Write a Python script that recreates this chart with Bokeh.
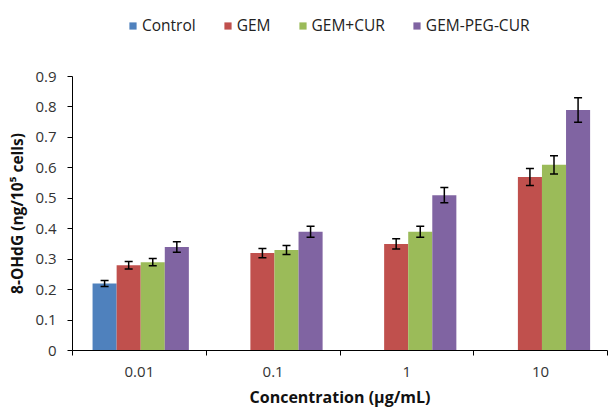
from bokeh.plotting import figure
from bokeh.layouts import column
from bokeh.models import ColumnDataSource, Whisker, Legend, LegendItem, FixedTicker, CustomJSTickFormatter, Range1d
from bokeh.embed import file_html
from bokeh.resources import INLINE

concentrations = ["0.01", "0.1", "1", "10"]
series = ["Control", "GEM", "GEM+CUR", "GEM-PEG-CUR"]
colors = ["#4F81BD", "#C0504D", "#9BBB59", "#8064A2"]
control = [0.22, None, None, None]
control_err = [0.01, None, None, None]
gem = [0.28, 0.32, 0.35, 0.57]
gem_err = [0.012, 0.015, 0.017, 0.028]
gem_cur = [0.29, 0.33, 0.39, 0.61]
gem_cur_err = [0.012, 0.015, 0.018, 0.03]
gem_peg_cur = [0.34, 0.39, 0.51, 0.79]
gem_peg_cur_err = [0.017, 0.018, 0.025, 0.04]
y_ticks = [0, 0.1, 0.2, 0.3, 0.4, 0.5, 0.6, 0.7, 0.8, 0.9]

values = [control, gem, gem_cur, gem_peg_cur]
errors = [control_err, gem_err, gem_cur_err, gem_peg_cur_err]

FONT = "Open Sans"
NAN = float("nan")

# legend strip on top
lg = figure(frame_width=609, frame_height=44, output_backend="svg", toolbar_location=None,
            x_range=Range1d(0, 1), y_range=Range1d(0, 1), x_axis_type=None, y_axis_type=None,
            min_border_left=0, min_border_right=0, min_border_top=0, min_border_bottom=0)
lg.outline_line_color = None
lg.xgrid.visible = False
lg.ygrid.visible = False
items = []
for s, col in zip(series, colors):
    r = lg.vbar(x=[NAN], top=[NAN], width=0.1, fill_color=col, line_color=None)
    items.append(LegendItem(label=s, renderers=[r]))
legend = Legend(items=items, orientation="horizontal", location=(128, 8),
                label_text_font=FONT, label_text_font_size="15.5px", label_text_color="#222222",
                glyph_width=9, glyph_height=9, spacing=27, label_standoff=5,
                border_line_color=None, background_fill_alpha=0, margin=0, padding=4)
lg.add_layout(legend, "center")

p = figure(frame_width=535, frame_height=274, output_backend="svg", toolbar_location=None,
           x_range=Range1d(0, len(concentrations)), y_range=Range1d(0, 0.9),
           min_border_left=72, min_border_right=2, min_border_top=32, min_border_bottom=60)
p.outline_line_color = None
p.xgrid.visible = False
p.ygrid.visible = False

bar_w = 0.18
offsets = [-0.27, -0.09, 0.09, 0.27]
for s, col, vals, errs, off in zip(series, colors, values, errors, offsets):
    xs, ys, lo, hi = [], [], [], []
    for i, (v, e) in enumerate(zip(vals, errs)):
        if v is None:
            continue
        xs.append(i + 0.5 + off + 0.01)
        ys.append(v)
        lo.append(v - e)
        hi.append(v + e)
    src = ColumnDataSource(dict(x=xs, y=ys, lo=lo, hi=hi))
    p.vbar(x="x", top="y", width=bar_w, source=src, fill_color=col, line_color=None)
    w = Whisker(base="x", upper="hi", lower="lo", source=src, line_color="black",
                line_width=1.5, level="annotation")
    w.upper_head.size = 8
    w.lower_head.size = 8
    w.upper_head.line_width = 1.5
    w.lower_head.line_width = 1.5
    p.add_layout(w)

# x axis
p.xaxis.ticker = FixedTicker(ticks=[i + 0.5 for i in range(len(concentrations))],
                             minor_ticks=list(range(0, len(concentrations) + 1)))
p.xaxis.major_label_overrides = {i + 0.5: c for i, c in enumerate(concentrations)}
p.xaxis.major_tick_line_color = None
p.xaxis.major_tick_out = 0
p.xaxis.major_tick_in = 0
p.xaxis.minor_tick_out = 5
p.xaxis.minor_tick_in = 0
p.xaxis.minor_tick_line_color = "black"
p.xaxis.axis_line_color = "black"
p.xaxis.axis_label = "Concentration (µg/mL)"

# y axis
p.yaxis.ticker = FixedTicker(ticks=y_ticks)
p.yaxis.formatter = CustomJSTickFormatter(code="return Math.abs(tick) < 1e-9 ? '0' : tick.toFixed(1);")
p.yaxis.minor_tick_line_color = None
p.yaxis.major_tick_out = 5
p.yaxis.major_tick_in = 0
p.yaxis.axis_line_color = "black"
p.yaxis.axis_label = "8-OHdG (ng/10\u2075 cells)"

for ax in (p.xaxis, p.yaxis):
    ax.major_label_text_font = FONT
    ax.major_label_text_font_size = "15px"
    ax.major_label_text_color = "#333333"
    ax.axis_label_text_font = FONT
    ax.axis_label_text_font_size = "16px"
    ax.axis_label_text_font_style = "bold"
    ax.axis_label_text_color = "#111111"
p.yaxis.axis_label_text_font_size = "15.5px"
p.xaxis.major_label_standoff = 11
p.xaxis.axis_label_standoff = 6
p.yaxis.major_label_standoff = 11
p.yaxis.axis_label_standoff = 4

layout = column(lg, p, spacing=0)
open("out.html", "w").write(file_html(layout, INLINE))
